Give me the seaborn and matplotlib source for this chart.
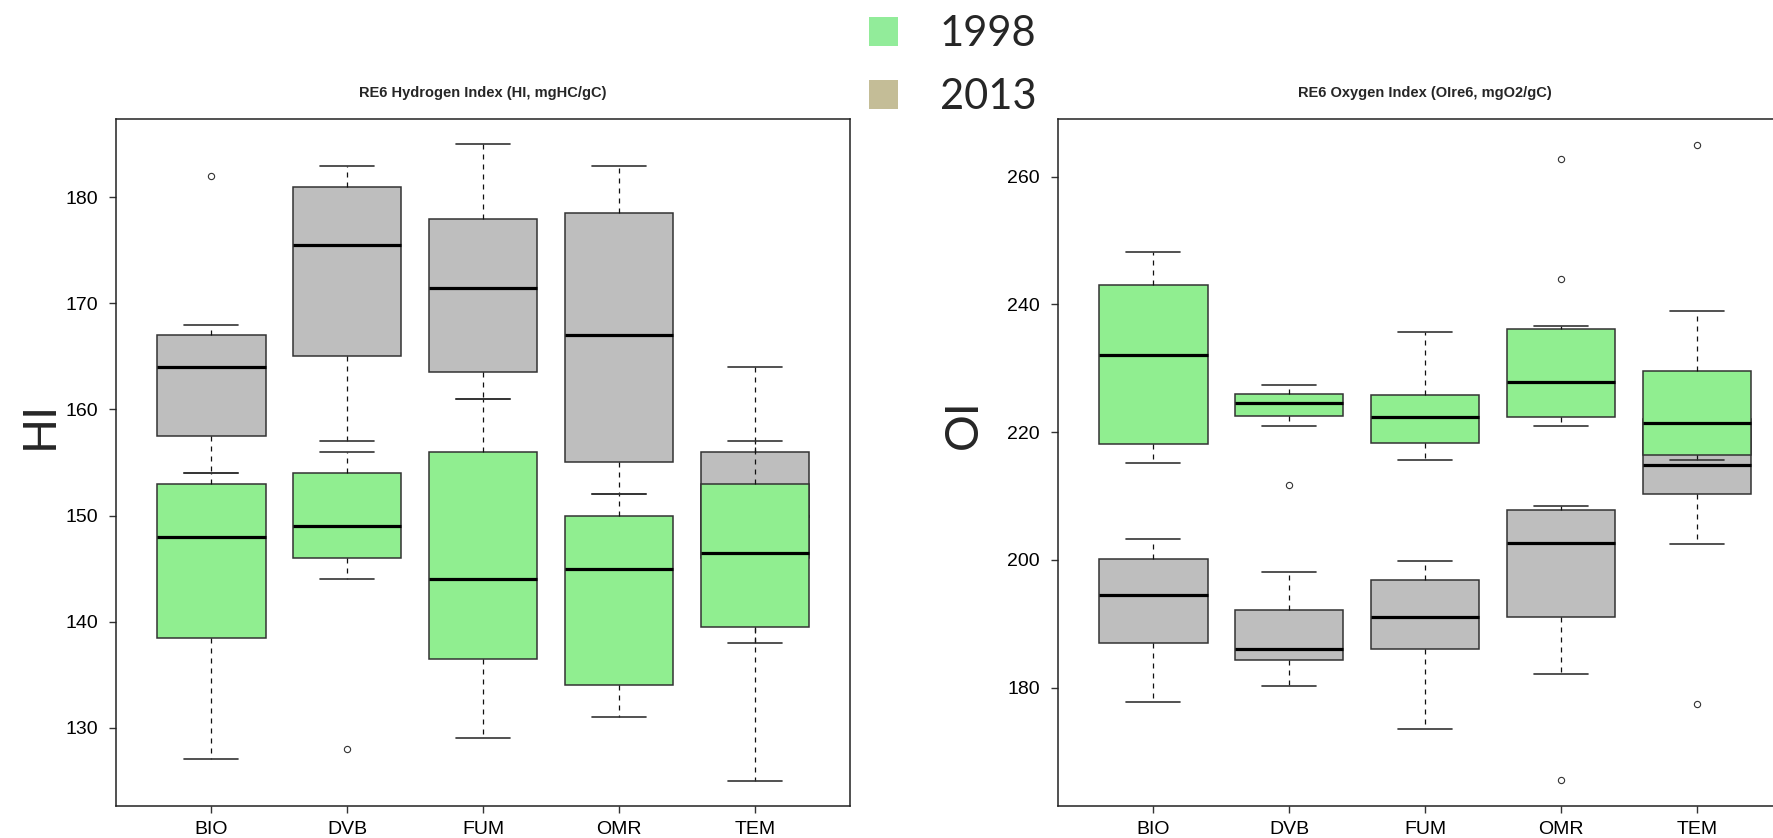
import numpy as np
import pandas as pd
import matplotlib
matplotlib.use("Agg")
import matplotlib.pyplot as plt
from matplotlib.patches import Patch
import seaborn as sns

sns.set_theme(style="white")
plt.rcParams['font.family'] = ['Liberation Sans', 'DejaVu Sans']

categories = ["BIO", "DVB", "FUM", "OMR", "TEM"]
years = ["1998", "2013"]

# HI (mgHC/gC) - box summaries
hi98_lo = [127, 144, 129, 131, 125]
hi98_q1 = [138.4, 146, 136.5, 134, 139.5]
hi98_med = [148, 149, 144, 145, 146.5]
hi98_q3 = [153, 154, 156, 150, 153]
hi98_hi = [154, 156, 161, 152, 157]
hi98_out = [[], [128], [], [], []]

hi13_lo = [154, 157, 161, 152, 138]
hi13_q1 = [157.5, 165, 163.5, 155, 146]
hi13_med = [164, 175.5, 171.5, 167, 150]
hi13_q3 = [167, 181, 178, 178.5, 156]
hi13_hi = [168, 183, 185, 183, 164]
hi13_out = [[182], [], [], [], []]

# OIre6 (mgO2/gC)
oi98_lo = [215.2, 220.9, 215.7, 220.9, 215.6]
oi98_q1 = [218.2, 222.5, 218.3, 222.3, 216.4]
oi98_med = [232, 224.5, 222.4, 227.8, 221.5]
oi98_q3 = [243.1, 226, 225.8, 236.2, 229.6]
oi98_hi = [248.2, 227.3, 235.6, 236.6, 239]
oi98_out = [[], [211.8], [], [243.9, 262.8], [265]]

oi13_lo = [177.7, 180.2, 173.6, 182.1, 202.5]
oi13_q1 = [187, 184.4, 186, 191.1, 210.3]
oi13_med = [194.5, 186.1, 191, 202.6, 214.8]
oi13_q3 = [200.2, 192.2, 196.8, 207.8, 222]
oi13_hi = [203.3, 198.1, 199.9, 208.4, 226]
oi13_out = [[], [], [], [165.5], [177.5]]

green = "#90EE90"
grey = "#BEBEBE"
edge = "#333333"


def make_stats(lo, q1, med, q3, hi, out):
    df = pd.DataFrame({"label": categories, "whislo": lo, "q1": q1, "med": med,
                       "q3": q3, "whishi": hi})
    stats = df.to_dict("records")
    for s, f in zip(stats, out):
        s["fliers"] = np.array(f)
    return stats


def draw(ax, stats, color, z):
    ax.bxp(stats, positions=range(1, len(categories) + 1), widths=0.8, capwidths=0.4,
           patch_artist=True, manage_ticks=False, zorder=z,
           boxprops=dict(facecolor=color, edgecolor=edge, linewidth=1.1),
           medianprops=dict(color="black", linewidth=2.3, solid_capstyle="butt"),
           whiskerprops=dict(color="#111111", linewidth=0.9, linestyle=(0, (4, 4))),
           capprops=dict(color=edge, linewidth=1.2),
           flierprops=dict(marker="o", markerfacecolor="none", markeredgecolor=edge,
                           markersize=4.5, markeredgewidth=0.8))


fig = plt.figure(figsize=(17.74, 8.38), dpi=100)
ax1 = fig.add_axes([0.0654, 0.0382, 0.4138, 0.8198])
ax2 = fig.add_axes([0.5964, 0.0382, 0.4138, 0.8198])

draw(ax1, make_stats(hi13_lo, hi13_q1, hi13_med, hi13_q3, hi13_hi, hi13_out), grey, 2)
draw(ax1, make_stats(hi98_lo, hi98_q1, hi98_med, hi98_q3, hi98_hi, hi98_out), green, 3)
draw(ax2, make_stats(oi13_lo, oi13_q1, oi13_med, oi13_q3, oi13_hi, oi13_out), grey, 2)
draw(ax2, make_stats(oi98_lo, oi98_q1, oi98_med, oi98_q3, oi98_hi, oi98_out), green, 3)

ax1.set_ylim(122.6, 187.4)
ax1.set_yticks([130, 140, 150, 160, 170, 180])
ax2.set_ylim(161.5, 269.0)
ax2.set_yticks([180, 200, 220, 240, 260])

for ax, title in [(ax1, "RE6 Hydrogen Index (HI, mgHC/gC)"),
                  (ax2, "RE6 Oxygen Index (OIre6, mgO2/gC)")]:
    ax.set_xlim(0.3, 5.7)
    ax.set_xticks(range(1, len(categories) + 1))
    ax.set_xticklabels(categories)
    ax.set_title(title, fontsize=10.5, fontweight="bold", pad=16)
    ax.tick_params(axis="both", which="both", left=True, bottom=True, length=5,
                   width=1, color=edge, labelsize=14, labelcolor="black", pad=6)
    ax.tick_params(axis="y", pad=8)
    for sp in ax.spines.values():
        sp.set_color("#222222")
        sp.set_linewidth(1.1)
    ax.grid(False)

fig.text(40 / 1774, 1 - 425 / 838, "HI", rotation=90, ha="center", va="center",
         fontsize=33, family=["Lato", "DejaVu Sans"])
fig.text(964 / 1774, 1 - 424 / 838, "OI", rotation=90, ha="center", va="center",
         fontsize=33, family=["Lato", "DejaVu Sans"])

handles = [Patch(facecolor="#92EC9A", edgecolor="none", label=years[0]),
           Patch(facecolor="#C4BD97", edgecolor="none", label=years[1])]
fig.legend(handles=handles, loc="upper left", bbox_to_anchor=(869 / 1774, 0.982),
           frameon=False, prop={"family": ["Lato", "DejaVu Sans"], "size": 30},
           handlelength=0.7, handleheight=0.7, handletextpad=1.0,
           labelspacing=0.6, borderpad=0, borderaxespad=0)

fig.savefig("out.png", dpi=100)
